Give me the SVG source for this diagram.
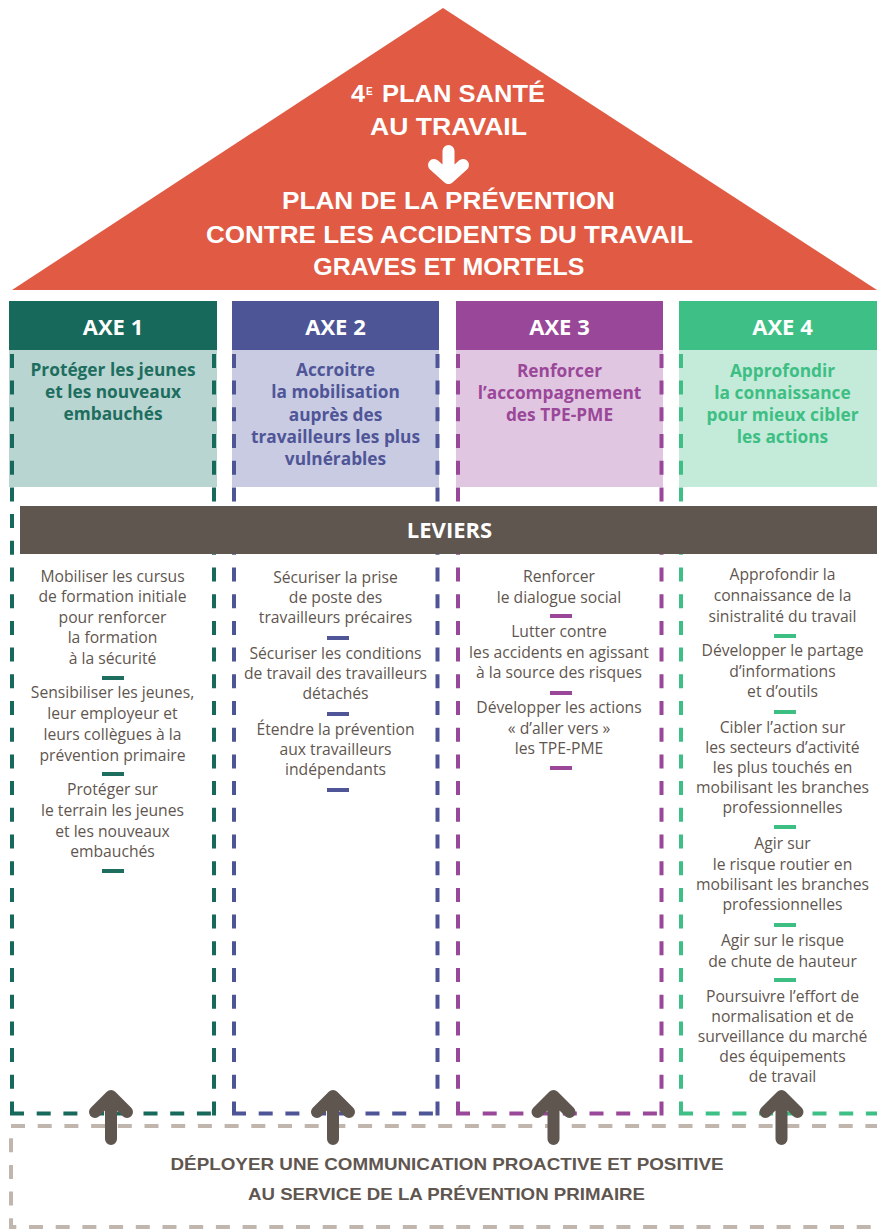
<svg xmlns="http://www.w3.org/2000/svg" width="877" height="1230" viewBox="0 0 877 1230">
<style>
.roof{font-family:"Liberation Sans",Arial,sans-serif;font-weight:bold;font-size:23px;fill:#fff;text-anchor:middle}
.axe{font-family:"Open Sans","Liberation Sans",sans-serif;font-weight:bold;font-size:22px;fill:#fff;text-anchor:middle}
.ttl{font-family:"Open Sans","Liberation Sans",sans-serif;font-weight:bold;font-size:17.3px;text-anchor:middle}
.lv{font-family:"Open Sans","Liberation Sans",sans-serif;font-size:15.7px;fill:#5f5650;text-anchor:middle}
.bot{font-family:"Liberation Sans",Arial,sans-serif;font-weight:bold;font-size:16.5px;fill:#5f5650;text-anchor:middle}
.dash{fill:none;stroke-width:4;stroke-dasharray:14 12.7}
.arr{fill:none;stroke:#5f5650;stroke-width:12;stroke-linecap:round;stroke-linejoin:round}
.c1{fill:#1e6e60}.c2{fill:#4f5597}.c3{fill:#9a4799}.c4{fill:#3dbf84}
</style>

<g id="roof">
<polygon points="443,8 12,290 877,290" fill="#e05a44"/>
<text class="roof" x="351" y="102" style="text-anchor:start" textLength="14" lengthAdjust="spacingAndGlyphs">4</text>
<text class="roof" x="366" y="95" style="text-anchor:start;font-size:10px">E</text>
<text class="roof" x="382" y="102" style="text-anchor:start" textLength="163" lengthAdjust="spacingAndGlyphs">PLAN SANTÉ</text>
<text class="roof" x="448.5" y="135" textLength="157" lengthAdjust="spacingAndGlyphs">AU TRAVAIL</text>
<path d="M448.5 151 V171 M434 165 L448.5 178 L463 165" fill="none" stroke="#fff" stroke-width="12" stroke-linecap="round" stroke-linejoin="round"/>
<text class="roof" x="448.5" y="209" textLength="333" lengthAdjust="spacingAndGlyphs">PLAN DE LA PRÉVENTION</text>
<text class="roof" x="449.5" y="243" textLength="487" lengthAdjust="spacingAndGlyphs">CONTRE LES ACCIDENTS DU TRAVAIL</text>
<text class="roof" x="448.8" y="275" textLength="271" lengthAdjust="spacingAndGlyphs">GRAVES ET MORTELS</text>
</g>

<g id="axe1">
<rect x="9" y="350" width="208" height="137" fill="#b9d5d1"/>
<path class="dash" stroke="#17695c" d="M12 1115.5 V352 M10 1113.5 H214 M214 1115.5 V352"/>
<rect x="9" y="301" width="208" height="49" fill="#17695c"/>
<text class="axe" x="113" y="335">AXE 1</text>
<text class="ttl c1" x="113" y="376">Protéger les jeunes</text>
<text class="ttl c1" x="113" y="398">et les nouveaux</text>
<text class="ttl c1" x="113" y="420">embauchés</text>
</g>

<g id="axe2">
<rect x="232" y="350" width="207" height="137" fill="#c9cbe3"/>
<path class="dash" stroke="#4e5597" d="M234 1115.5 V352 M232 1113.5 H437.5 M437.5 1115.5 V352"/>
<rect x="232" y="301" width="207" height="49" fill="#4e5597"/>
<text class="axe" x="335.5" y="335">AXE 2</text>
<text class="ttl c2" x="335.5" y="376">Accroitre</text>
<text class="ttl c2" x="335.5" y="398">la mobilisation</text>
<text class="ttl c2" x="335.5" y="420.5">auprès des</text>
<text class="ttl c2" x="335.5" y="443">travailleurs les plus</text>
<text class="ttl c2" x="335.5" y="465">vulnérables</text>
</g>

<g id="axe3">
<rect x="456" y="350" width="207" height="137" fill="#e1c6e1"/>
<path class="dash" stroke="#994798" d="M458 1115.5 V352 M456 1113.5 H661.5 M661.5 1115.5 V352"/>
<rect x="456" y="301" width="207" height="49" fill="#994798"/>
<text class="axe" x="559.5" y="335">AXE 3</text>
<text class="ttl c3" x="559.5" y="376.5">Renforcer</text>
<text class="ttl c3" x="559.5" y="398.5">l’accompagnement</text>
<text class="ttl c3" x="559.5" y="420.5">des TPE-PME</text>
</g>

<g id="axe4">
<rect x="679" y="350" width="210" height="137" fill="#c4ead9"/>
<path class="dash" stroke="#3ebf85" d="M681 1115.5 V352 M679 1113.5 H880"/>
<rect x="679" y="301" width="210" height="49" fill="#3ebf85"/>
<text class="axe" x="782.5" y="335">AXE 4</text>
<text class="ttl c4" x="782.5" y="377">Approfondir</text>
<text class="ttl c4" x="782.5" y="399">la connaissance</text>
<text class="ttl c4" x="782.5" y="421">pour mieux cibler</text>
<text class="ttl c4" x="782.5" y="443">les actions</text>
</g>

<g id="leviers">
<rect x="20" y="506" width="870" height="48" fill="#5f5650"/>
<text class="axe" x="449.5" y="538">LEVIERS</text>
</g>

<g id="leviers-axe1">
<text class="lv" x="112.5" y="581.5">Mobiliser les cursus</text>
<text class="lv" x="112.5" y="602">de formation initiale</text>
<text class="lv" x="112.5" y="622.5">pour renforcer</text>
<text class="lv" x="112.5" y="643">la formation</text>
<text class="lv" x="112.5" y="664">à la sécurité</text>
<rect class="c1" x="102" y="676" width="22" height="4"/>
<text class="lv" x="112.5" y="698">Sensibiliser les jeunes,</text>
<text class="lv" x="112.5" y="719">leur employeur et</text>
<text class="lv" x="112.5" y="740">leurs collègues à la</text>
<text class="lv" x="112.5" y="761">prévention primaire</text>
<rect class="c1" x="102" y="772" width="22" height="4"/>
<text class="lv" x="112.5" y="795">Protéger sur</text>
<text class="lv" x="112.5" y="816">le terrain les jeunes</text>
<text class="lv" x="112.5" y="836.5">et les nouveaux</text>
<text class="lv" x="112.5" y="857">embauchés</text>
<rect class="c1" x="102" y="869" width="22" height="4"/>
</g>

<g id="leviers-axe2">
<text class="lv" x="335.5" y="583">Sécuriser la prise</text>
<text class="lv" x="335.5" y="603">de poste des</text>
<text class="lv" x="335.5" y="623">travailleurs précaires</text>
<rect class="c2" x="327" y="636" width="22" height="4"/>
<text class="lv" x="335.5" y="658.5">Sécuriser les conditions</text>
<text class="lv" x="335.5" y="678.5">de travail des travailleurs</text>
<text class="lv" x="335.5" y="699">détachés</text>
<rect class="c2" x="327" y="712" width="22" height="4"/>
<text class="lv" x="335.5" y="735">Étendre la prévention</text>
<text class="lv" x="335.5" y="755">aux travailleurs</text>
<text class="lv" x="335.5" y="775">indépendants</text>
<rect class="c2" x="327" y="788" width="22" height="4"/>
</g>

<g id="leviers-axe3">
<text class="lv" x="559" y="581.5">Renforcer</text>
<text class="lv" x="559" y="602.5">le dialogue social</text>
<rect class="c3" x="550" y="614" width="22" height="4"/>
<text class="lv" x="559" y="636.5">Lutter contre</text>
<text class="lv" x="559" y="657.5">les accidents en agissant</text>
<text class="lv" x="559" y="678">à la source des risques</text>
<rect class="c3" x="550" y="691" width="22" height="4"/>
<text class="lv" x="559" y="713">Développer les actions</text>
<text class="lv" x="559" y="734">« d’aller vers »</text>
<text class="lv" x="559" y="754">les TPE-PME</text>
<rect class="c3" x="550" y="766" width="22" height="4"/>
</g>

<g id="leviers-axe4">
<text class="lv" x="782.5" y="580">Approfondir la</text>
<text class="lv" x="782.5" y="600.7">connaissance de la</text>
<text class="lv" x="782.5" y="621.5">sinistralité du travail</text>
<rect class="c4" x="774" y="634" width="22" height="4"/>
<text class="lv" x="782.5" y="656">Développer le partage</text>
<text class="lv" x="782.5" y="676.5">d’informations</text>
<text class="lv" x="782.5" y="697">et d’outils</text>
<rect class="c4" x="774" y="710" width="22" height="4"/>
<text class="lv" x="782.5" y="732.5">Cibler l’action sur</text>
<text class="lv" x="782.5" y="752.5">les secteurs d’activité</text>
<text class="lv" x="782.5" y="773">les plus touchés en</text>
<text class="lv" x="782.5" y="793">mobilisant les branches</text>
<text class="lv" x="782.5" y="813">professionnelles</text>
<rect class="c4" x="774" y="825" width="22" height="4"/>
<text class="lv" x="782.5" y="849">Agir sur</text>
<text class="lv" x="782.5" y="870">le risque routier en</text>
<text class="lv" x="782.5" y="890">mobilisant les branches</text>
<text class="lv" x="782.5" y="910">professionnelles</text>
<rect class="c4" x="774" y="923" width="22" height="4"/>
<text class="lv" x="782.5" y="946">Agir sur le risque</text>
<text class="lv" x="782.5" y="966.5">de chute de hauteur</text>
<rect class="c4" x="774" y="978" width="22" height="4"/>
<text class="lv" x="782.5" y="1001.5">Poursuivre l’effort de</text>
<text class="lv" x="782.5" y="1021.5">normalisation et de</text>
<text class="lv" x="782.5" y="1041.5">surveillance du marché</text>
<text class="lv" x="782.5" y="1061.5">des équipements</text>
<text class="lv" x="782.5" y="1081.5">de travail</text>
</g>

<g id="communication">
<rect x="11" y="1126" width="900" height="101" class="dash" stroke="#c0b6ae"/>
<text class="bot" x="447" y="1170" textLength="553" lengthAdjust="spacingAndGlyphs">DÉPLOYER UNE COMMUNICATION PROACTIVE ET POSITIVE</text>
<text class="bot" x="446.5" y="1200" textLength="397" lengthAdjust="spacingAndGlyphs">AU SERVICE DE LA PRÉVENTION PRIMAIRE</text>
</g>

<g id="connectors">
<path class="arr" d="M111 1139 V1100 M95 1112 L111 1096 L127 1112"/>
<path class="arr" d="M333 1139 V1100 M317 1112 L333 1096 L349 1112"/>
<path class="arr" d="M553.5 1139 V1100 M537.5 1112 L553.5 1096 L569.5 1112"/>
<path class="arr" d="M781.5 1139 V1100 M765.5 1112 L781.5 1096 L797.5 1112"/>
</g>
</svg>
